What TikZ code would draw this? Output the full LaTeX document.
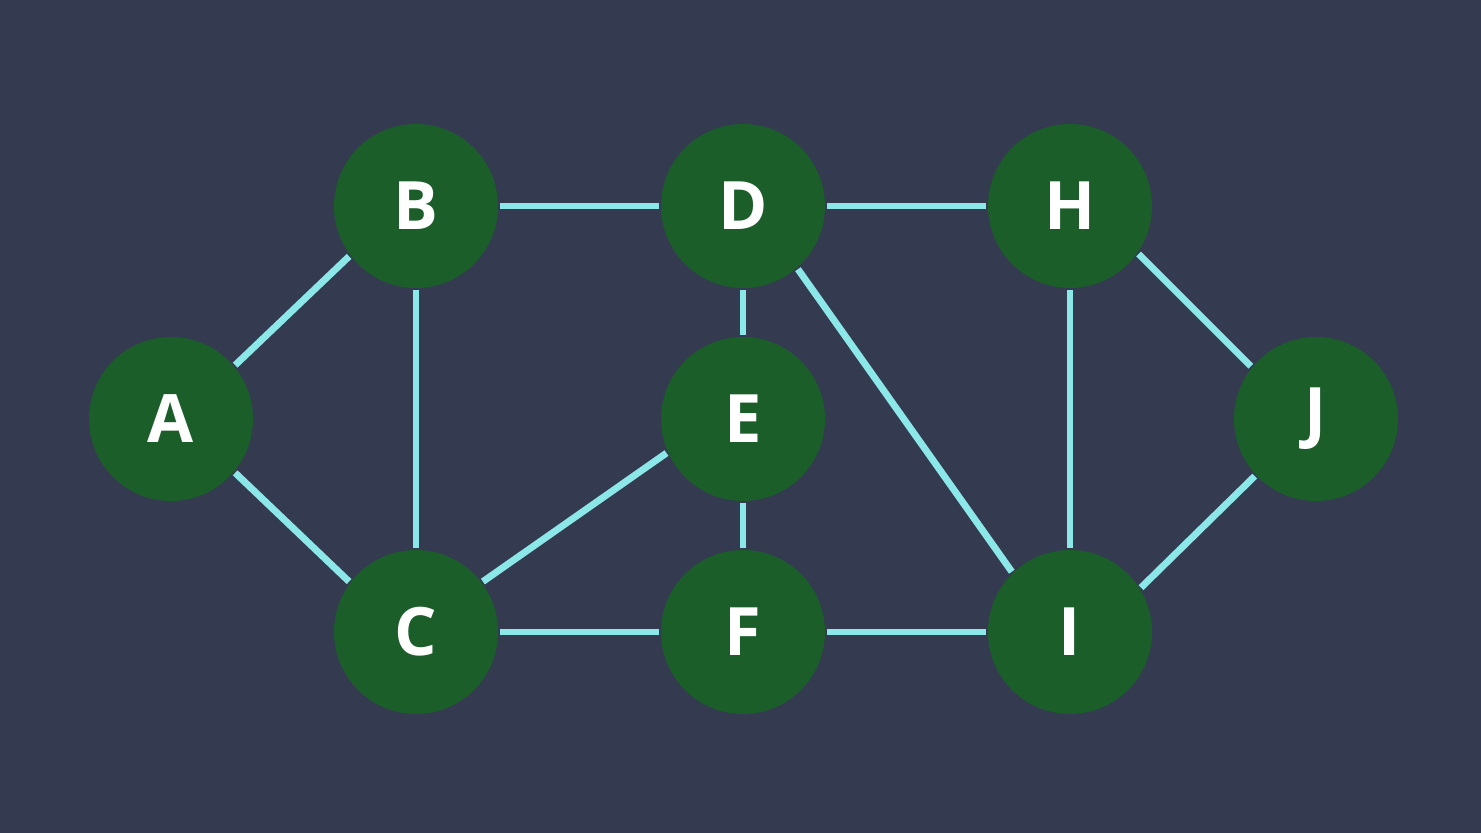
\documentclass[tikz,border=0pt]{standalone}
\usepackage{fontspec}
\setmainfont{Open Sans}
\usetikzlibrary{positioning, backgrounds}
\definecolor{bgblue}{HTML}{343A50}
\definecolor{nodegreen}{HTML}{1B5E2A}
\definecolor{edgecyan}{HTML}{8CE8E8}

\begin{document}
\begin{tikzpicture}[
	font=\bfseries\fontsize{38}{44}\selectfont,
	vertex/.style={circle, fill=nodegreen, text=white, minimum size=3.28cm, inner sep=0pt, outer sep=1pt},
	link/.style={draw=edgecyan, line width=3.9pt}
	]
	
	% --------------------------------------------------
	% Canvas
	% --------------------------------------------------
	\fill[bgblue] (0,0) rectangle (29.62,16.66);
	\useasboundingbox (0,0) rectangle (29.62,16.66);
	
	% ==================================================
	% Vertices
	% ==================================================
	\node[vertex] (A) at (3.42,8.28)  {A};
	\node[vertex] (B) at (8.32,12.54) {B};
	\node[vertex] (C) at (8.32,4.02)  {C};
	\node[vertex] (D) at (14.86,12.54) {D};
	\node[vertex] (E) at (14.86,8.28) {E};
	\node[vertex] (F) at (14.86,4.02) {F};
	\node[vertex] (H) at (21.40,12.54) {H};
	\node[vertex] (I) at (21.40,4.02) {I};
	\node[vertex] (J) at (26.32,8.28) {J};
	
	% ==================================================
	% Edges
	% ==================================================
	\draw[link] (A.40) -- (B.217);
	\draw[link] (A.-40) -- (C.143);
	\draw[link] (B) -- (C);
	\draw[link] (B) -- (D);
	\draw[link] (D) -- (H);
	\draw[link] (D) -- (E);
	\draw[link] (D.-49) -- (I.134);
	\draw[link] (C.37) -- (E.204);
	\draw[link] (E) -- (F);
	\draw[link] (C) -- (F);
	\draw[link] (F) -- (I);
	\draw[link] (H) -- (I);
	\draw[link] (H.-35) -- (J.141);
	\draw[link] (J.223) -- (I.32);
	
\end{tikzpicture}
\end{document}
